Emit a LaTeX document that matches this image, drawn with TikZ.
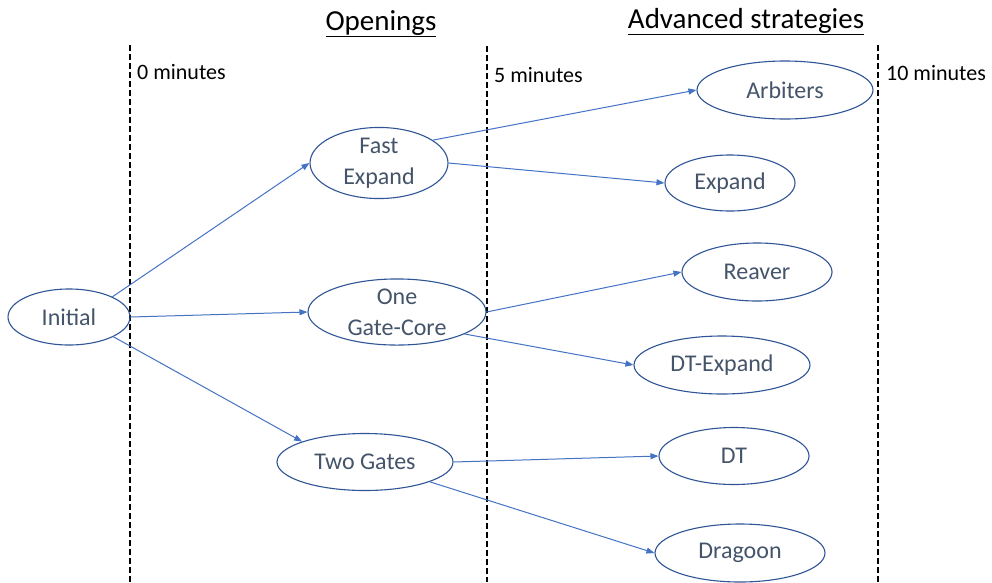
\documentclass[tikz,border=0pt]{standalone}
\usepackage{fontspec}
\setmainfont{Carlito}
\usetikzlibrary{shapes.geometric,arrows.meta}
\definecolor{arrowblue}{HTML}{4472C4}
\definecolor{rimblue}{HTML}{2F5597}
\definecolor{txtslate}{HTML}{44546A}
\tikzset{
  state/.style={ellipse,draw=rimblue,line width=1.1pt,inner sep=0pt,text=txtslate,
    align=center,font=\fontsize{24}{31}\selectfont},
  link/.style={draw=arrowblue,line width=1pt,-{Triangle[length=8pt,width=6pt]}},
  timeline/.style={black,line width=1.6pt,dash pattern=on 5.5pt off 3.5pt},
  timelabel/.style={anchor=west,inner sep=0pt,font=\fontsize{22}{26}\selectfont},
  heading/.style={anchor=base,inner sep=0pt,font=\fontsize{29}{34}\selectfont}
}
\begin{document}
\begin{tikzpicture}[x=1pt,y=-1pt]
\useasboundingbox[fill=white] (0,0) rectangle (992,582);
% time lines
\draw[timeline] (130,45) -- (130,582);
\draw[timeline] (487,46) -- (487,582);
\draw[timeline] (878,45) -- (878,582);
% headings and labels
\node[heading] (h1) at (381,30) {\underline{Openings}};
\node[heading] (h2) at (746,28) {\underline{Advanced strategies}};
\node[timelabel] (t0) at (137,72) {0 minutes};
\node[timelabel] (t5) at (494,75) {5 minutes};
\node[timelabel] (t10) at (886,73) {10 minutes};
% nodes
\node[state,minimum width=122pt,minimum height=56pt] (init) at (69,317) {Initial};
\node[state,minimum width=138pt,minimum height=59pt] (fast) at (379,163) {Fast\\Expand};
\node[state,minimum width=178pt,minimum height=59pt] (one) at (397,312) {One\\Gate-Core};
\node[state,minimum width=176pt,minimum height=57pt] (two) at (365,462) {Two Gates};
\node[state,minimum width=176pt,minimum height=58pt] (arb) at (785,90) {Arbiters};
\node[state,minimum width=130pt,minimum height=56pt] (exp) at (730,183) {Expand};
\node[state,minimum width=150pt,minimum height=58pt] (rea) at (757,272) {Reaver};
\node[state,minimum width=176pt,minimum height=58pt] (dtx) at (722,365) {DT-Expand};
\node[state,minimum width=150pt,minimum height=57pt] (dt) at (734,456) {DT};
\node[state,minimum width=170pt,minimum height=58pt] (dra) at (740,553) {Dragoon};
% connectors
\draw[link] (init.25) -- (fast.west);
\draw[link] (init.east) -- (one.west);
\draw[link] (init.-24) -- (two.162);
\draw[link] (fast.23) -- (arb.west);
\draw[link] (fast.east) -- (exp.west);
\draw[link] (one.east) -- (rea.west);
\draw[link] (one.-18) -- (dtx.west);
\draw[link] (two.east) -- (dt.west);
\draw[link] (two.-17) -- (dra.west);
\end{tikzpicture}
\end{document}
